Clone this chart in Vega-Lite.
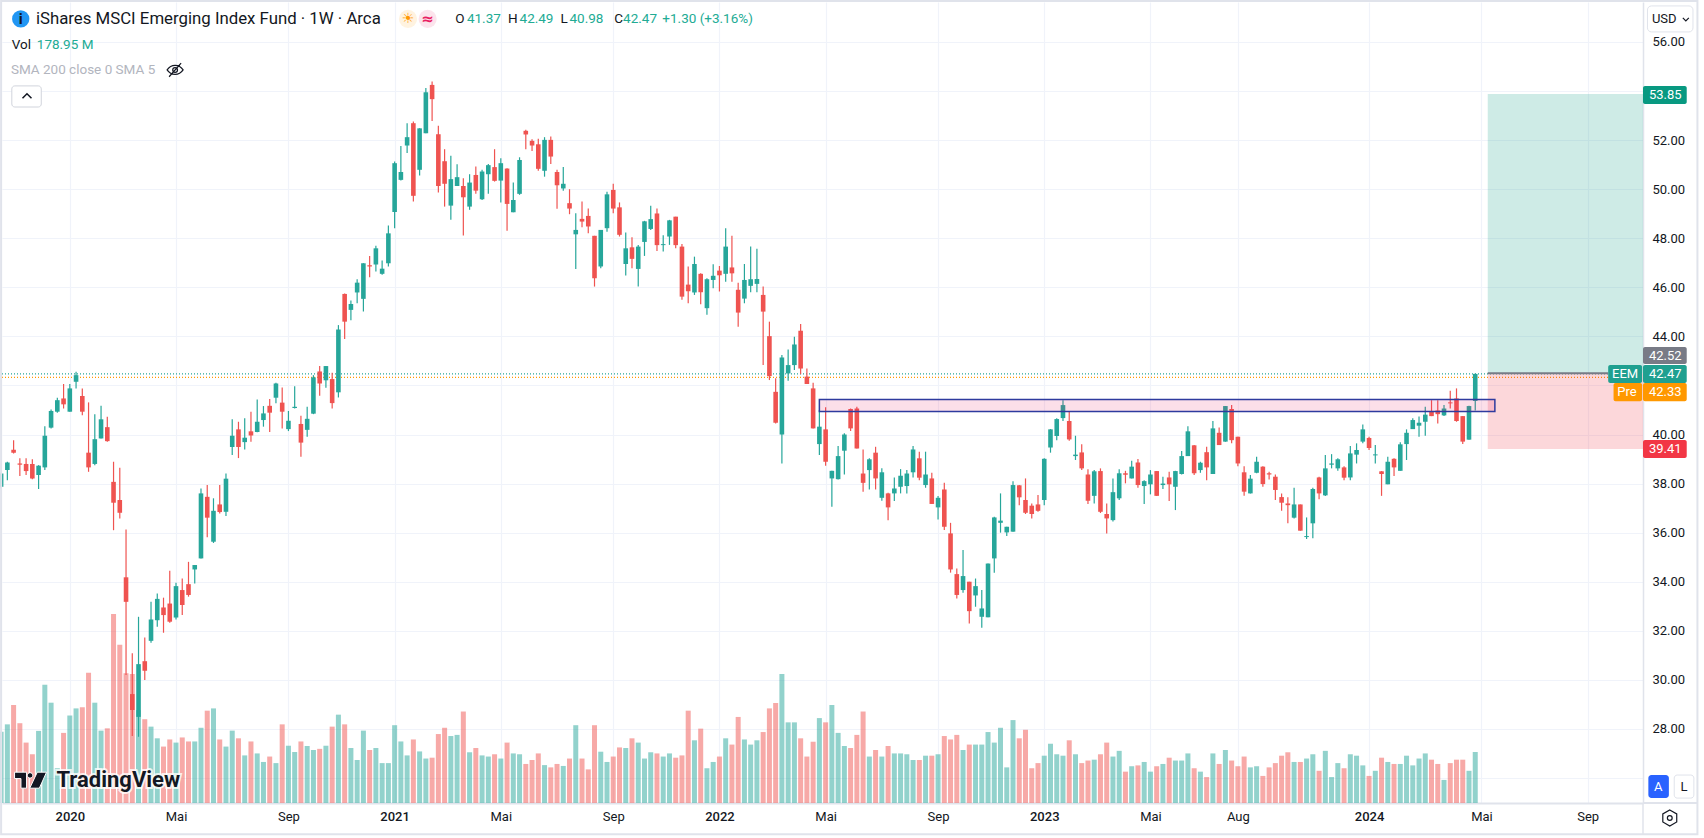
{
"$schema":"https://vega.github.io/schema/vega-lite/v6.json",
"autosize":{"type":"none"},
"width":1641,"height":801,
"padding":{"left":2,"top":2,"right":61,"bottom":35},
"background":"#ffffff",
"config":{"font":"Roboto","view":{"stroke":null}},
"datasets":{"bars":[
{"date":"2019-10-21","dir":"up","open":37.87,"high":38.45,"low":37.8,"close":38.41,"volume":250},
{"date":"2019-10-28","dir":"up","open":38.55,"high":38.89,"low":38.14,"close":38.86,"volume":276},
{"date":"2019-11-04","dir":"down","open":39.38,"high":39.77,"low":39.23,"close":39.26,"volume":344},
{"date":"2019-11-11","dir":"down","open":38.82,"high":39.03,"low":38.31,"close":38.77,"volume":280},
{"date":"2019-11-18","dir":"down","open":38.8,"high":39.03,"low":38.35,"close":38.51,"volume":212},
{"date":"2019-11-25","dir":"down","open":38.8,"high":38.99,"low":38.18,"close":38.21,"volume":171},
{"date":"2019-12-02","dir":"up","open":38.35,"high":38.75,"low":37.78,"close":38.73,"volume":253},
{"date":"2019-12-09","dir":"up","open":38.66,"high":40.34,"low":38.55,"close":39.95,"volume":415},
{"date":"2019-12-16","dir":"up","open":40.28,"high":41.02,"low":40.25,"close":40.96,"volume":352},
{"date":"2019-12-23","dir":"up","open":40.93,"high":41.5,"low":40.89,"close":41.4,"volume":122},
{"date":"2019-12-30","dir":"down","open":41.47,"high":42.06,"low":41.06,"close":41.23,"volume":246},
{"date":"2020-01-06","dir":"up","open":40.93,"high":42.06,"low":40.93,"close":41.88,"volume":307},
{"date":"2020-01-13","dir":"up","open":42.15,"high":42.56,"low":41.88,"close":42.42,"volume":332},
{"date":"2020-01-20","dir":"down","open":41.57,"high":41.88,"low":40.79,"close":40.93,"volume":336},
{"date":"2020-01-27","dir":"down","open":39.26,"high":41.31,"low":38.48,"close":38.66,"volume":457},
{"date":"2020-02-03","dir":"up","open":38.8,"high":40.83,"low":38.75,"close":39.81,"volume":352},
{"date":"2020-02-10","dir":"up","open":39.84,"high":41.17,"low":39.84,"close":40.62,"volume":254},
{"date":"2020-02-17","dir":"down","open":40.3,"high":40.72,"low":39.71,"close":39.73,"volume":262},
{"date":"2020-02-24","dir":"down","open":38.07,"high":38.89,"low":36.1,"close":37.22,"volume":663},
{"date":"2020-03-02","dir":"down","open":37.33,"high":38.65,"low":36.58,"close":36.81,"volume":555},
{"date":"2020-03-09","dir":"down","open":34.18,"high":36.13,"low":30.2,"close":33.18,"volume":455},
{"date":"2020-03-16","dir":"down","open":29.42,"high":31.08,"low":27.71,"close":28.77,"volume":453},
{"date":"2020-03-23","dir":"up","open":28.49,"high":32.57,"low":27.68,"close":30.64,"volume":326},
{"date":"2020-03-30","dir":"down","open":30.76,"high":31.73,"low":29.99,"close":30.37,"volume":294},
{"date":"2020-04-06","dir":"up","open":31.59,"high":33.18,"low":31.51,"close":32.46,"volume":268},
{"date":"2020-04-13","dir":"up","open":32.43,"high":33.52,"low":32.16,"close":33.3,"volume":227},
{"date":"2020-04-20","dir":"down","open":32.95,"high":33.35,"low":31.92,"close":32.64,"volume":198},
{"date":"2020-04-27","dir":"down","open":33.11,"high":34.45,"low":32.33,"close":32.37,"volume":223},
{"date":"2020-05-04","dir":"up","open":32.54,"high":33.96,"low":32.46,"close":33.82,"volume":212},
{"date":"2020-05-11","dir":"down","open":33.66,"high":34.13,"low":32.64,"close":33.05,"volume":230},
{"date":"2020-05-18","dir":"down","open":33.9,"high":34.81,"low":33.39,"close":33.46,"volume":216},
{"date":"2020-05-25","dir":"up","open":34.5,"high":34.68,"low":33.93,"close":34.68,"volume":216},
{"date":"2020-06-01","dir":"up","open":34.95,"high":37.8,"low":34.95,"close":37.6,"volume":264},
{"date":"2020-06-08","dir":"down","open":37.46,"high":37.94,"low":35.81,"close":36.61,"volume":324},
{"date":"2020-06-15","dir":"up","open":35.63,"high":37.4,"low":35.58,"close":36.89,"volume":332},
{"date":"2020-06-22","dir":"down","open":37.15,"high":37.94,"low":36.78,"close":36.84,"volume":223},
{"date":"2020-06-29","dir":"up","open":36.85,"high":38.41,"low":36.68,"close":38.2,"volume":198},
{"date":"2020-07-06","dir":"up","open":39.49,"high":40.62,"low":39.16,"close":39.95,"volume":254},
{"date":"2020-07-13","dir":"down","open":40.21,"high":40.52,"low":39.04,"close":39.49,"volume":227},
{"date":"2020-07-20","dir":"up","open":39.69,"high":40.66,"low":39.39,"close":39.87,"volume":167},
{"date":"2020-07-27","dir":"down","open":40.13,"high":40.93,"low":39.71,"close":39.96,"volume":216},
{"date":"2020-08-03","dir":"up","open":40.1,"high":41.43,"low":40.09,"close":40.52,"volume":174},
{"date":"2020-08-10","dir":"up","open":40.59,"high":41.16,"low":40.32,"close":40.86,"volume":144},
{"date":"2020-08-17","dir":"down","open":41.17,"high":41.45,"low":40.1,"close":40.89,"volume":163},
{"date":"2020-08-24","dir":"up","open":41.5,"high":42.11,"low":41.27,"close":42.08,"volume":140},
{"date":"2020-08-31","dir":"down","open":41.3,"high":41.92,"low":40.25,"close":40.93,"volume":276},
{"date":"2020-09-07","dir":"up","open":40.22,"high":40.96,"low":40.14,"close":40.56,"volume":201},
{"date":"2020-09-14","dir":"up","open":41.08,"high":41.97,"low":41.06,"close":41.13,"volume":179},
{"date":"2020-09-21","dir":"down","open":40.43,"high":40.77,"low":39.09,"close":39.67,"volume":216},
{"date":"2020-09-28","dir":"up","open":40.19,"high":41.13,"low":39.91,"close":40.64,"volume":200},
{"date":"2020-10-05","dir":"up","open":40.85,"high":42.42,"low":40.83,"close":42.33,"volume":186},
{"date":"2020-10-12","dir":"down","open":42.57,"high":42.79,"low":41.58,"close":42.08,"volume":190},
{"date":"2020-10-19","dir":"up","open":42.21,"high":42.79,"low":41.91,"close":42.79,"volume":201},
{"date":"2020-10-26","dir":"down","open":42.26,"high":42.52,"low":41.06,"close":41.28,"volume":268},
{"date":"2020-11-02","dir":"up","open":41.72,"high":44.46,"low":41.51,"close":44.28,"volume":310},
{"date":"2020-11-09","dir":"down","open":45.73,"high":45.75,"low":43.89,"close":44.6,"volume":276},
{"date":"2020-11-16","dir":"up","open":45.08,"high":45.46,"low":44.66,"close":45.32,"volume":193},
{"date":"2020-11-23","dir":"up","open":45.79,"high":46.33,"low":45.35,"close":46.19,"volume":151},
{"date":"2020-11-30","dir":"up","open":45.53,"high":46.98,"low":45.01,"close":46.98,"volume":254},
{"date":"2020-12-07","dir":"down","open":46.9,"high":47.28,"low":46.41,"close":46.85,"volume":186},
{"date":"2020-12-14","dir":"up","open":46.93,"high":47.69,"low":46.64,"close":47.59,"volume":193},
{"date":"2020-12-21","dir":"up","open":46.55,"high":47.09,"low":46.51,"close":46.76,"volume":140},
{"date":"2020-12-28","dir":"up","open":46.98,"high":48.52,"low":46.85,"close":48.2,"volume":140},
{"date":"2021-01-04","dir":"up","open":49.07,"high":51.13,"low":48.41,"close":51.06,"volume":273},
{"date":"2021-01-11","dir":"up","open":50.38,"high":51.76,"low":50.35,"close":50.7,"volume":216},
{"date":"2021-01-18","dir":"up","open":51.78,"high":52.69,"low":51.47,"close":52.12,"volume":167},
{"date":"2021-01-25","dir":"down","open":52.69,"high":52.76,"low":49.5,"close":49.73,"volume":223},
{"date":"2021-02-01","dir":"up","open":50.79,"high":52.48,"low":50.56,"close":52.48,"volume":181},
{"date":"2021-02-08","dir":"up","open":52.28,"high":54.12,"low":52.28,"close":53.95,"volume":156},
{"date":"2021-02-15","dir":"down","open":54.25,"high":54.39,"low":52.78,"close":53.67,"volume":159},
{"date":"2021-02-22","dir":"down","open":52.24,"high":52.59,"low":49.86,"close":50.13,"volume":242},
{"date":"2021-03-01","dir":"down","open":51.14,"high":51.63,"low":49.29,"close":50.22,"volume":264},
{"date":"2021-03-08","dir":"up","open":49.33,"high":51.36,"low":48.75,"close":50.41,"volume":235},
{"date":"2021-03-15","dir":"up","open":50.13,"high":51.02,"low":50.13,"close":50.49,"volume":239},
{"date":"2021-03-22","dir":"down","open":50.13,"high":50.45,"low":48.11,"close":49.67,"volume":321},
{"date":"2021-03-29","dir":"up","open":49.29,"high":50.61,"low":49.16,"close":50.27,"volume":178},
{"date":"2021-04-05","dir":"down","open":50.58,"high":50.92,"low":49.81,"close":49.94,"volume":193},
{"date":"2021-04-12","dir":"up","open":49.59,"high":50.79,"low":49.56,"close":50.72,"volume":167},
{"date":"2021-04-19","dir":"up","open":50.61,"high":51.03,"low":49.81,"close":50.98,"volume":163},
{"date":"2021-04-26","dir":"down","open":50.9,"high":51.63,"low":50.31,"close":50.34,"volume":171},
{"date":"2021-05-03","dir":"up","open":50.35,"high":51.26,"low":49.46,"close":51.06,"volume":156},
{"date":"2021-05-10","dir":"down","open":50.84,"high":50.85,"low":48.31,"close":49.4,"volume":212},
{"date":"2021-05-17","dir":"up","open":49.06,"high":50.27,"low":49.06,"close":49.56,"volume":174},
{"date":"2021-05-24","dir":"up","open":49.81,"high":51.3,"low":49.77,"close":51.19,"volume":171},
{"date":"2021-05-31","dir":"down","open":52.38,"high":52.42,"low":51.63,"close":52.23,"volume":137},
{"date":"2021-06-07","dir":"down","open":51.97,"high":52.04,"low":51.56,"close":51.78,"volume":151},
{"date":"2021-06-14","dir":"down","open":51.83,"high":52.06,"low":50.75,"close":50.83,"volume":174},
{"date":"2021-06-21","dir":"up","open":50.75,"high":52.12,"low":50.51,"close":52.01,"volume":133},
{"date":"2021-06-28","dir":"down","open":52.01,"high":52.15,"low":51.03,"close":51.33,"volume":125},
{"date":"2021-07-05","dir":"down","open":50.7,"high":50.79,"low":49.2,"close":50.16,"volume":137},
{"date":"2021-07-12","dir":"up","open":50.03,"high":50.9,"low":49.94,"close":50.22,"volume":130},
{"date":"2021-07-19","dir":"down","open":49.43,"high":50,"low":48.98,"close":49.21,"volume":156},
{"date":"2021-07-26","dir":"up","open":48.16,"high":49.02,"low":46.75,"close":48.34,"volume":273},
{"date":"2021-08-02","dir":"down","open":48.79,"high":49.5,"low":48.45,"close":48.68,"volume":156},
{"date":"2021-08-09","dir":"down","open":48.91,"high":49.21,"low":48.2,"close":48.48,"volume":118},
{"date":"2021-08-16","dir":"down","open":48.1,"high":48.1,"low":46.03,"close":46.37,"volume":273},
{"date":"2021-08-23","dir":"up","open":46.85,"high":48.34,"low":46.78,"close":48.34,"volume":180},
{"date":"2021-08-30","dir":"up","open":48.41,"high":49.9,"low":48.27,"close":49.79,"volume":144},
{"date":"2021-09-06","dir":"down","open":49.97,"high":50.22,"low":49.02,"close":49.21,"volume":163},
{"date":"2021-09-13","dir":"down","open":49.26,"high":49.46,"low":48.07,"close":48.14,"volume":195},
{"date":"2021-09-20","dir":"up","open":46.95,"high":48.23,"low":46.48,"close":47.59,"volume":193},
{"date":"2021-09-27","dir":"down","open":47.63,"high":48.04,"low":46.78,"close":47.16,"volume":227},
{"date":"2021-10-04","dir":"up","open":46.75,"high":47.73,"low":46.03,"close":47.66,"volume":212},
{"date":"2021-10-11","dir":"up","open":47.85,"high":48.71,"low":47.28,"close":48.69,"volume":156},
{"date":"2021-10-18","dir":"up","open":48.38,"high":49.32,"low":48.34,"close":48.78,"volume":178},
{"date":"2021-10-25","dir":"down","open":49.01,"high":49.21,"low":47.48,"close":47.72,"volume":174},
{"date":"2021-11-01","dir":"up","open":47.72,"high":48.12,"low":47.46,"close":47.76,"volume":163},
{"date":"2021-11-08","dir":"up","open":48.07,"high":48.75,"low":47.73,"close":48.73,"volume":174},
{"date":"2021-11-15","dir":"down","open":48.88,"high":48.88,"low":47.59,"close":47.72,"volume":159},
{"date":"2021-11-22","dir":"down","open":47.66,"high":47.77,"low":45.49,"close":45.62,"volume":167},
{"date":"2021-11-29","dir":"down","open":46.11,"high":46.85,"low":45.35,"close":45.84,"volume":324},
{"date":"2021-12-06","dir":"up","open":45.79,"high":47.25,"low":45.69,"close":46.95,"volume":220},
{"date":"2021-12-13","dir":"down","open":46.55,"high":46.57,"low":45.31,"close":45.8,"volume":261},
{"date":"2021-12-20","dir":"up","open":45.15,"high":46.37,"low":44.88,"close":46.33,"volume":122},
{"date":"2021-12-27","dir":"up","open":46.3,"high":46.94,"low":45.96,"close":46.47,"volume":144},
{"date":"2022-01-03","dir":"down","open":46.68,"high":46.87,"low":45.83,"close":46.49,"volume":163},
{"date":"2022-01-10","dir":"up","open":46.55,"high":48.41,"low":46.23,"close":47.66,"volume":227},
{"date":"2022-01-17","dir":"down","open":46.81,"high":48.1,"low":46.23,"close":46.57,"volume":205},
{"date":"2022-01-24","dir":"down","open":45.9,"high":46.19,"low":44.39,"close":44.97,"volume":302},
{"date":"2022-01-31","dir":"up","open":45.54,"high":46.95,"low":45.35,"close":46.3,"volume":223},
{"date":"2022-02-07","dir":"up","open":46.06,"high":47.66,"low":45.8,"close":46.33,"volume":205},
{"date":"2022-02-14","dir":"up","open":46.14,"high":47.57,"low":45.8,"close":46.34,"volume":220},
{"date":"2022-02-21","dir":"down","open":45.69,"high":46.03,"low":42.83,"close":45.01,"volume":249},
{"date":"2022-02-28","dir":"down","open":44.01,"high":44.6,"low":42.22,"close":42.38,"volume":332},
{"date":"2022-03-07","dir":"down","open":41.74,"high":42.29,"low":40.45,"close":40.48,"volume":351},
{"date":"2022-03-14","dir":"up","open":40,"high":43.24,"low":38.82,"close":43.14,"volume":453},
{"date":"2022-03-21","dir":"up","open":42.49,"high":43.47,"low":42.19,"close":42.83,"volume":283},
{"date":"2022-03-28","dir":"up","open":42.83,"high":43.99,"low":42.63,"close":43.67,"volume":283},
{"date":"2022-04-04","dir":"down","open":44.23,"high":44.5,"low":42.46,"close":42.69,"volume":227},
{"date":"2022-04-11","dir":"down","open":42.36,"high":42.69,"low":42.06,"close":42.06,"volume":163},
{"date":"2022-04-18","dir":"down","open":41.88,"high":42.11,"low":40.25,"close":40.25,"volume":215},
{"date":"2022-04-25","dir":"up","open":39.61,"high":41,"low":39.16,"close":40.32,"volume":298},
{"date":"2022-05-02","dir":"down","open":40.21,"high":41.11,"low":38.73,"close":38.89,"volume":283},
{"date":"2022-05-09","dir":"up","open":38.21,"high":38.52,"low":37.06,"close":38.52,"volume":344},
{"date":"2022-05-16","dir":"up","open":38.18,"high":39.53,"low":38.17,"close":39.12,"volume":246},
{"date":"2022-05-23","dir":"up","open":39.34,"high":40.05,"low":38.37,"close":40,"volume":200},
{"date":"2022-05-30","dir":"down","open":41.04,"high":41.06,"low":40.14,"close":40.25,"volume":193},
{"date":"2022-06-06","dir":"down","open":41.06,"high":41.13,"low":39.43,"close":39.43,"volume":239},
{"date":"2022-06-13","dir":"down","open":38.41,"high":39.39,"low":37.67,"close":38.03,"volume":321},
{"date":"2022-06-20","dir":"up","open":38.55,"high":39.03,"low":37.76,"close":38.99,"volume":163},
{"date":"2022-06-27","dir":"down","open":39.26,"high":39.5,"low":37.76,"close":38.21,"volume":186},
{"date":"2022-07-04","dir":"up","open":37.42,"high":38.62,"low":37.3,"close":38.46,"volume":163},
{"date":"2022-07-11","dir":"down","open":37.6,"high":37.63,"low":36.51,"close":37.03,"volume":200},
{"date":"2022-07-18","dir":"up","open":37.6,"high":38.25,"low":37.29,"close":37.8,"volume":174},
{"date":"2022-07-25","dir":"up","open":37.87,"high":38.59,"low":37.6,"close":38.32,"volume":174},
{"date":"2022-08-01","dir":"up","open":37.9,"high":38.55,"low":37.6,"close":38.41,"volume":171},
{"date":"2022-08-08","dir":"up","open":38.46,"high":39.53,"low":38.25,"close":39.39,"volume":151},
{"date":"2022-08-15","dir":"down","open":39.03,"high":39.3,"low":38.14,"close":38.24,"volume":151},
{"date":"2022-08-22","dir":"up","open":37.94,"high":39.3,"low":37.83,"close":38.37,"volume":166},
{"date":"2022-08-29","dir":"down","open":38.21,"high":38.44,"low":37.17,"close":37.17,"volume":166},
{"date":"2022-09-05","dir":"up","open":37.03,"high":37.49,"low":36.54,"close":37.42,"volume":171},
{"date":"2022-09-12","dir":"down","open":37.76,"high":38.03,"low":36.11,"close":36.24,"volume":235},
{"date":"2022-09-19","dir":"down","open":35.97,"high":36.4,"low":34.37,"close":34.5,"volume":223},
{"date":"2022-09-26","dir":"down","open":34.31,"high":34.54,"low":33.32,"close":33.46,"volume":239},
{"date":"2022-10-03","dir":"up","open":33.66,"high":35.29,"low":33.55,"close":34.23,"volume":186},
{"date":"2022-10-10","dir":"down","open":34,"high":34,"low":32.3,"close":32.8,"volume":205},
{"date":"2022-10-17","dir":"up","open":33.44,"high":34.13,"low":32.98,"close":33.82,"volume":205},
{"date":"2022-10-24","dir":"up","open":32.57,"high":33.66,"low":32.12,"close":32.91,"volume":205},
{"date":"2022-10-31","dir":"up","open":32.55,"high":34.74,"low":32.55,"close":34.74,"volume":249},
{"date":"2022-11-07","dir":"up","open":34.95,"high":36.65,"low":34.37,"close":36.62,"volume":212},
{"date":"2022-11-14","dir":"up","open":36.4,"high":37.6,"low":36,"close":36.49,"volume":264},
{"date":"2022-11-21","dir":"up","open":36.01,"high":36.24,"low":35.86,"close":36.24,"volume":125},
{"date":"2022-11-28","dir":"up","open":36.04,"high":38.1,"low":36.04,"close":37.94,"volume":291},
{"date":"2022-12-05","dir":"down","open":37.93,"high":37.94,"low":37.12,"close":37.44,"volume":227},
{"date":"2022-12-12","dir":"down","open":37.33,"high":38.21,"low":36.76,"close":36.81,"volume":257},
{"date":"2022-12-19","dir":"down","open":37.1,"high":37.19,"low":36.58,"close":36.76,"volume":122},
{"date":"2022-12-26","dir":"down","open":37.15,"high":37.53,"low":36.85,"close":36.89,"volume":140},
{"date":"2023-01-02","dir":"up","open":37.33,"high":39.03,"low":37.12,"close":39.01,"volume":166},
{"date":"2023-01-09","dir":"up","open":39.47,"high":40.22,"low":39.26,"close":40.21,"volume":208},
{"date":"2023-01-16","dir":"up","open":39.94,"high":40.66,"low":39.77,"close":40.63,"volume":171},
{"date":"2023-01-23","dir":"up","open":40.67,"high":41.4,"low":40.55,"close":41.2,"volume":166},
{"date":"2023-01-30","dir":"down","open":40.55,"high":40.93,"low":39.75,"close":39.8,"volume":220},
{"date":"2023-02-06","dir":"up","open":39.12,"high":39.95,"low":38.96,"close":39.18,"volume":171},
{"date":"2023-02-13","dir":"down","open":39.27,"high":39.6,"low":38.55,"close":38.62,"volume":140},
{"date":"2023-02-20","dir":"down","open":38.37,"high":38.58,"low":37.17,"close":37.3,"volume":149},
{"date":"2023-02-27","dir":"up","open":37.5,"high":38.55,"low":37.19,"close":38.5,"volume":152},
{"date":"2023-03-06","dir":"down","open":38.51,"high":38.62,"low":36.8,"close":36.85,"volume":171},
{"date":"2023-03-13","dir":"down","open":36.76,"high":37.19,"low":35.97,"close":36.58,"volume":212},
{"date":"2023-03-20","dir":"up","open":36.51,"high":38.21,"low":36.45,"close":37.65,"volume":163},
{"date":"2023-03-27","dir":"up","open":37.4,"high":38.58,"low":37.33,"close":38.42,"volume":183},
{"date":"2023-04-03","dir":"down","open":38.42,"high":38.52,"low":38.01,"close":38.36,"volume":110},
{"date":"2023-04-10","dir":"up","open":38.21,"high":38.93,"low":38.21,"close":38.69,"volume":129},
{"date":"2023-04-17","dir":"down","open":38.86,"high":39,"low":37.83,"close":37.94,"volume":132},
{"date":"2023-04-24","dir":"up","open":37.9,"high":38.14,"low":37.17,"close":38.1,"volume":144},
{"date":"2023-05-01","dir":"up","open":37.97,"high":38.55,"low":37.56,"close":38.37,"volume":110},
{"date":"2023-05-08","dir":"down","open":38.51,"high":38.51,"low":37.49,"close":37.5,"volume":129},
{"date":"2023-05-15","dir":"up","open":37.94,"high":38.28,"low":37.78,"close":38,"volume":137},
{"date":"2023-05-22","dir":"down","open":38.25,"high":38.48,"low":37.29,"close":37.97,"volume":159},
{"date":"2023-05-29","dir":"up","open":37.87,"high":38.52,"low":36.92,"close":38.51,"volume":149},
{"date":"2023-06-05","dir":"up","open":38.39,"high":39.33,"low":38.37,"close":39.12,"volume":149},
{"date":"2023-06-12","dir":"up","open":39.12,"high":40.34,"low":39.12,"close":40.13,"volume":174},
{"date":"2023-06-19","dir":"down","open":39.56,"high":39.57,"low":38.35,"close":38.42,"volume":122},
{"date":"2023-06-26","dir":"up","open":38.55,"high":38.89,"low":38.44,"close":38.85,"volume":110},
{"date":"2023-07-03","dir":"down","open":39.28,"high":39.5,"low":38.14,"close":38.66,"volume":91},
{"date":"2023-07-10","dir":"up","open":38.39,"high":40.55,"low":38.39,"close":40.25,"volume":174},
{"date":"2023-07-17","dir":"down","open":40.07,"high":40.29,"low":39.57,"close":39.57,"volume":137},
{"date":"2023-07-24","dir":"up","open":39.71,"high":41.16,"low":39.71,"close":41.16,"volume":186},
{"date":"2023-07-31","dir":"down","open":41.04,"high":41.2,"low":39.64,"close":39.77,"volume":149},
{"date":"2023-08-07","dir":"down","open":39.91,"high":39.91,"low":38.71,"close":38.82,"volume":129},
{"date":"2023-08-14","dir":"down","open":38.46,"high":38.71,"low":37.5,"close":37.67,"volume":163},
{"date":"2023-08-21","dir":"up","open":37.6,"high":38.35,"low":37.6,"close":38.2,"volume":125},
{"date":"2023-08-28","dir":"up","open":38.44,"high":39.09,"low":38.42,"close":38.89,"volume":129},
{"date":"2023-09-04","dir":"down","open":38.69,"high":38.71,"low":37.87,"close":37.98,"volume":95},
{"date":"2023-09-11","dir":"down","open":38.42,"high":38.48,"low":38.17,"close":38.37,"volume":125},
{"date":"2023-09-18","dir":"down","open":38.28,"high":38.37,"low":37.33,"close":37.74,"volume":140},
{"date":"2023-09-25","dir":"down","open":37.45,"high":37.6,"low":36.89,"close":37.22,"volume":166},
{"date":"2023-10-02","dir":"down","open":37.19,"high":37.44,"low":36.38,"close":37.12,"volume":178},
{"date":"2023-10-09","dir":"up","open":36.61,"high":37.83,"low":36.58,"close":37.15,"volume":144},
{"date":"2023-10-16","dir":"down","open":37.15,"high":37.15,"low":36.08,"close":36.08,"volume":144},
{"date":"2023-10-23","dir":"up","open":35.82,"high":36.62,"low":35.74,"close":35.86,"volume":156},
{"date":"2023-10-30","dir":"up","open":36.38,"high":37.83,"low":35.77,"close":37.78,"volume":171},
{"date":"2023-11-06","dir":"down","open":38.25,"high":38.28,"low":37.36,"close":37.6,"volume":113},
{"date":"2023-11-13","dir":"up","open":37.52,"high":39.16,"low":37.49,"close":38.62,"volume":183},
{"date":"2023-11-20","dir":"up","open":38.77,"high":39.2,"low":38.62,"close":38.82,"volume":91},
{"date":"2023-11-27","dir":"up","open":38.62,"high":39.03,"low":38.52,"close":38.99,"volume":140},
{"date":"2023-12-04","dir":"down","open":38.66,"high":38.71,"low":38.14,"close":38.24,"volume":122},
{"date":"2023-12-11","dir":"up","open":38.25,"high":39.53,"low":38.14,"close":39.23,"volume":171},
{"date":"2023-12-18","dir":"up","open":39.18,"high":39.64,"low":38.82,"close":39.37,"volume":166},
{"date":"2023-12-25","dir":"up","open":39.71,"high":40.41,"low":39.64,"close":40.21,"volume":132},
{"date":"2024-01-01","dir":"down","open":39.86,"high":39.91,"low":39.37,"close":39.45,"volume":95},
{"date":"2024-01-08","dir":"up","open":39.15,"high":39.57,"low":38.82,"close":39.19,"volume":113},
{"date":"2024-01-15","dir":"down","open":38.5,"high":38.51,"low":37.5,"close":38.39,"volume":159},
{"date":"2024-01-22","dir":"up","open":37.97,"high":39.09,"low":37.97,"close":38.89,"volume":144},
{"date":"2024-01-29","dir":"down","open":39.01,"high":39.03,"low":38.31,"close":38.66,"volume":137},
{"date":"2024-02-05","dir":"up","open":38.52,"high":39.68,"low":38.52,"close":39.6,"volume":137},
{"date":"2024-02-12","dir":"up","open":39.61,"high":40.21,"low":38.96,"close":40.07,"volume":166},
{"date":"2024-02-19","dir":"up","open":40.22,"high":40.66,"low":40.22,"close":40.59,"volume":132},
{"date":"2024-02-26","dir":"up","open":40.36,"high":40.73,"low":39.91,"close":40.48,"volume":156},
{"date":"2024-03-04","dir":"up","open":40.52,"high":41.13,"low":39.95,"close":40.81,"volume":174},
{"date":"2024-03-11","dir":"down","open":40.92,"high":41.4,"low":40.75,"close":40.75,"volume":152},
{"date":"2024-03-18","dir":"down","open":40.98,"high":41.4,"low":40.45,"close":40.83,"volume":137},
{"date":"2024-03-25","dir":"up","open":40.78,"high":41.2,"low":40.75,"close":41.06,"volume":81},
{"date":"2024-04-01","dir":"down","open":41.31,"high":41.78,"low":41.06,"close":41.27,"volume":140},
{"date":"2024-04-08","dir":"down","open":41.47,"high":41.88,"low":40.52,"close":40.55,"volume":152},
{"date":"2024-04-15","dir":"down","open":40.75,"high":40.75,"low":39.61,"close":39.71,"volume":152},
{"date":"2024-04-22","dir":"up","open":39.79,"high":41.17,"low":39.79,"close":41.16,"volume":113},
{"date":"2024-04-29","dir":"up","open":41.37,"high":42.49,"low":40.98,"close":42.47,"volume":178.95}
],
"tags":[
{"tag":"target","date":"2024-11-03","date2":"2024-12-22","mid":"2024-11-28","low":53.47,"high":54.21,"price":53.84,"label":"53.85"},
{"tag":"last","date":"2024-11-03","date2":"2024-12-22","mid":"2024-11-28","low":42.87,"high":43.57,"price":43.22,"label":"42.52"},
{"tag":"close","date":"2024-11-03","date2":"2024-12-22","mid":"2024-11-28","low":42.1,"high":42.83,"price":42.47,"label":"42.47"},
{"tag":"pre","date":"2024-11-03","date2":"2024-12-22","mid":"2024-11-28","low":41.36,"high":42.1,"price":41.73,"label":"42.33"},
{"tag":"stop","date":"2024-11-03","date2":"2024-12-22","mid":"2024-11-28","low":39.04,"high":39.78,"price":39.41,"label":"39.41"},
{"tag":"close","date":"2024-09-25","date2":"2024-11-02","mid":"2024-10-14","low":42.1,"high":42.83,"price":42.47,"label":"EEM"},
{"tag":"pre","date":"2024-10-01","date2":"2024-11-02","mid":"2024-10-16","low":41.36,"high":42.1,"price":41.73,"label":"Pre"}
]},
"encoding":{"x":{"field":"date","type":"temporal","title":null,
  "scale":{"type":"utc","domain":["2019-10-22","2024-11-03"],"nice":false,"padding":0},
  "axis":{"orient":"bottom",
    "values":["2020-01-06","2020-05-04","2020-09-07","2021-01-04","2021-05-03","2021-09-06","2022-01-03","2022-05-02","2022-09-05","2023-01-02","2023-05-01","2023-08-07","2024-01-01","2024-05-06","2024-09-02"],
    "labelExpr":"utcmonth(datum.value)==0?''+utcyear(datum.value):utcmonth(datum.value)==4?'Mai':utcmonth(datum.value)==7?'Aug':'Sep'",
    "labelFontWeight":{"expr":"utcmonth(datum.value)==0?500:'normal'"},
    "labelFontSize":13,"labelColor":"#131722","labelPadding":7,"labelFlush":false,"labelOverlap":false,"labelBound":false,
    "ticks":false,"grid":true,"gridColor":"#f0f3fa","gridWidth":1.2,"domainColor":"#e0e3eb","domainWidth":2}}},
"layer":[
{"data":{"name":"bars"},
 "mark":{"type":"bar","size":5,"opacity":0.5},
 "encoding":{
  "y":{"field":"volume","type":"quantitative","stack":null,"axis":null,"scale":{"domain":[0,2811],"nice":false}},
  "color":{"field":"dir","type":"nominal","legend":null,"scale":{"domain":["up","down"],"range":["#26a69a","#ef5350"]}}}},
{"encoding":{"y":{"field":"price","type":"quantitative"}},
 "layer":[
 {"data":{"values":[{"date":"2019-10-22","date2":"2024-11-03","price":42.47}]},
  "mark":{"type":"rule","color":"#26a69a","strokeWidth":1.3,"strokeDash":[1,2]},
  "encoding":{"x2":{"field":"date2"},
   "y":{"field":"price","type":"quantitative","title":null,
    "scale":{"domain":[24.98,57.63],"nice":false,"zero":false},
    "axis":{"orient":"right","title":null,"values":[26,28,30,32,34,36,38,40,42,44,46,48,50,52,54,56],
     "labelExpr":"datum.value==26||datum.value==42||datum.value==54?'':format(datum.value,'.2f')",
     "labelFontSize":13,"labelColor":"#131722","labelPadding":9,"labelFlush":false,"labelOverlap":false,"labelBound":false,
     "ticks":false,"grid":true,"gridColor":"#f0f3fa","gridWidth":1.2,"domainColor":"#e0e3eb","domainWidth":1.5}}}},
 {"data":{"values":[{"date":"2019-10-22","date2":"2024-11-03","price":42.33}]},
  "mark":{"type":"rule","color":"#ff9800","strokeWidth":1.3,"strokeDash":[1,2]},
  "encoding":{"x2":{"field":"date2"}}},
 {"data":{"name":"bars"},
  "mark":{"type":"rule","strokeWidth":1.2},
  "encoding":{"y":{"field":"low","type":"quantitative"},"y2":{"field":"high"},
   "color":{"field":"dir","type":"nominal","legend":null}}},
 {"data":{"name":"bars"},
  "mark":{"type":"bar","size":4.6},
  "encoding":{"y":{"field":"open","type":"quantitative"},"y2":{"field":"close"},
   "color":{"field":"dir","type":"nominal","legend":null}}},
 {"data":{"values":[{"date":"2024-05-13","date2":"2024-11-03","low":42.5,"high":53.88}]},
  "mark":{"type":"rect","color":"#089981","opacity":0.2},
  "encoding":{"x2":{"field":"date2"},"y":{"field":"low","type":"quantitative"},"y2":{"field":"high"}}},
 {"data":{"values":[{"date":"2024-05-13","date2":"2024-11-03","low":39.41,"high":42.5}]},
  "mark":{"type":"rect","color":"#f23645","opacity":0.2},
  "encoding":{"x2":{"field":"date2"},"y":{"field":"low","type":"quantitative"},"y2":{"field":"high"}}},
 {"data":{"values":[{"date":"2024-05-13","date2":"2024-09-25","price":42.5}]},
  "mark":{"type":"rule","color":"#787b86","strokeWidth":2},
  "encoding":{"x2":{"field":"date2"}}},
 {"data":{"values":[{"date":"2022-04-25","date2":"2024-05-21","low":40.94,"high":41.43}]},
  "mark":{"type":"rect","fill":"#e91e63","fillOpacity":0.14,"stroke":"#2e3b9e","strokeWidth":1.5},
  "encoding":{"x2":{"field":"date2"},"y":{"field":"low","type":"quantitative"},"y2":{"field":"high"}}},
 {"data":{"values":[{"date":"2019-10-21","date2":"2025-01-03","low":23.71,"high":57.67}]},
  "mark":{"type":"rect","fillOpacity":0,"fill":"#ffffff","stroke":"#e0e3eb","strokeWidth":2,"clip":false},
  "encoding":{"x2":{"field":"date2"},"y":{"field":"low","type":"quantitative"},"y2":{"field":"high"}}},
 {"data":{"values":[{"date":"2024-11-03","date2":"2025-01-03","price":24.98}]},
  "mark":{"type":"rule","color":"#e0e3eb","strokeWidth":2},
  "encoding":{"x2":{"field":"date2"}}},
 {"data":{"values":[{"date":"2024-11-03","low":23.71,"high":24.98}]},
  "mark":{"type":"rule","color":"#e0e3eb","strokeWidth":1.5},
  "encoding":{"y":{"field":"low","type":"quantitative"},"y2":{"field":"high"}}},
 {"data":{"name":"tags"},
  "mark":{"type":"rect","cornerRadius":2},
  "encoding":{"x2":{"field":"date2"},"y":{"field":"low","type":"quantitative"},"y2":{"field":"high"},
   "fill":{"field":"tag","type":"nominal","legend":null,"scale":{"domain":["target","last","close","pre","stop"],"range":["#089981","#787b86","#1fa090","#ff9800","#f23645"]}}}},
 {"data":{"name":"tags"},
  "mark":{"type":"text","color":"#ffffff","fontSize":13,"align":"center","baseline":"middle"},
  "encoding":{"x":{"field":"mid","type":"temporal"},"text":{"field":"label"}}},
 {"data":{"values":[{"date":"2019-11-12","price":56.94}]},
  "mark":{"type":"point","filled":true,"shape":"circle","size":300,"color":"#2196f3","opacity":1}},
 {"data":{"values":[{"date":"2019-11-12","price":56.94,"label":"i"}]},
  "mark":{"type":"text","color":"#131722","fontSize":15,"fontWeight":"bold","align":"center","baseline":"middle"},
  "encoding":{"text":{"field":"label"}}},
 {"data":{"values":[{"date":"2019-11-29","price":56.94,"label":"iShares MSCI Emerging Index Fund · 1W · Arca"}]},
  "mark":{"type":"text","color":"#131722","fontSize":16.8,"align":"left","baseline":"middle"},
  "encoding":{"text":{"field":"label"}}},
 {"data":{"values":[{"date":"2021-01-19","price":56.94}]},
  "mark":{"type":"point","filled":true,"shape":"circle","size":330,"color":"#fff3e0","opacity":1}},
 {"data":{"values":[{"date":"2021-02-10","price":56.94}]},
  "mark":{"type":"point","filled":true,"shape":"circle","size":330,"color":"#fce4ec","opacity":1}},
 {"data":{"values":[{"date":"2021-01-19","price":56.94,"label":"☀"}]},
  "mark":{"type":"text","font":"DejaVu Sans","color":"#ff9800","fontSize":14,"align":"center","baseline":"middle"},
  "encoding":{"text":{"field":"label"}}},
 {"data":{"values":[{"date":"2021-02-10","price":56.94,"label":"≈"}]},
  "mark":{"type":"text","font":"DejaVu Sans","color":"#e91e63","fontSize":15,"fontWeight":"bold","align":"center","baseline":"middle"},
  "encoding":{"text":{"field":"label"}}},
 {"data":{"values":[
   {"date":"2021-03-13","price":56.94,"label":"O"},{"date":"2021-05-11","price":56.94,"label":"H"},
   {"date":"2021-07-09","price":56.94,"label":"L"},{"date":"2021-09-07","price":56.94,"label":"C"},
   {"date":"2019-11-02","price":55.88,"label":"Vol"}]},
  "mark":{"type":"text","color":"#131722","fontSize":13.5,"align":"left","baseline":"middle"},
  "encoding":{"text":{"field":"label"}}},
 {"data":{"values":[
   {"date":"2021-03-26","price":56.94,"label":"41.37"},{"date":"2021-05-24","price":56.94,"label":"42.49"},
   {"date":"2021-07-19","price":56.94,"label":"40.98"},{"date":"2021-09-17","price":56.94,"label":"42.47"},
   {"date":"2021-10-31","price":56.94,"label":"+1.30 (+3.16%)"},{"date":"2019-11-30","price":55.88,"label":"178.95 M"}]},
  "mark":{"type":"text","color":"#22ab94","fontSize":13.5,"align":"left","baseline":"middle"},
  "encoding":{"text":{"field":"label"}}},
 {"data":{"values":[{"date":"2019-11-01","price":54.86,"label":"SMA 200 close 0 SMA 5"}]},
  "mark":{"type":"text","color":"#b2b5be","fontSize":13.5,"align":"left","baseline":"middle"},
  "encoding":{"text":{"field":"label"}}},
 {"data":{"values":[{"date":"2020-05-03","price":54.86}]},
  "mark":{"type":"point","shape":"M-1,0C-0.5,-0.75 0.5,-0.75 1,0C0.5,0.75 -0.5,0.75 -1,0ZM-0.75,0.85L0.75,-0.85M-0.3,0a0.3,0.3 0 1,0 0.6,0a0.3,0.3 0 1,0 -0.6,0","size":256,"filled":false,"stroke":"#131722","strokeWidth":1.2,"opacity":1}},
 {"data":{"values":[{"date":"2019-11-02","date2":"2019-12-05","low":53.35,"high":54.21}]},
  "mark":{"type":"rect","fill":"#ffffff","stroke":"#d1d4dc","strokeWidth":1,"cornerRadius":3},
  "encoding":{"x2":{"field":"date2"},"y":{"field":"low","type":"quantitative"},"y2":{"field":"high"}}},
 {"data":{"values":[{"date":"2019-11-19","price":53.8}]},
  "mark":{"type":"point","shape":"M-1,0.5L0,-0.5L1,0.5","size":81,"filled":false,"stroke":"#131722","strokeWidth":1.5,"opacity":1}},
 {"data":{"values":[{"date":"2019-12-22","price":25.91,"label":"TradingView"}]},
  "mark":{"type":"text","color":"#ffffff","stroke":"#ffffff","strokeWidth":4,"strokeOpacity":0.8,"fontSize":22,"fontWeight":"bold","align":"left","baseline":"middle"},
  "encoding":{"text":{"field":"label"}}},
 {"data":{"values":[{"date":"2019-11-23","price":25.91}]},
  "mark":{"type":"point","shape":"M-1,-0.5H-0.25V0.5H-0.6V-0.1H-1ZM-0.2,-0.3a0.17,0.17 0 1,0 0.34,0a0.17,0.17 0 1,0 -0.34,0ZM0.42,-0.5H1L0.55,0.5H-0.05Z","size":1024,"filled":true,"fill":"#131722","stroke":"#ffffff","strokeWidth":1,"opacity":1}},
 {"data":{"values":[{"date":"2019-12-22","price":25.91,"label":"TradingView"}]},
  "mark":{"type":"text","color":"#131722","fontSize":22,"fontWeight":"bold","align":"left","baseline":"middle"},
  "encoding":{"text":{"field":"label"}}},
 {"data":{"values":[{"date":"2024-11-08","date2":"2024-12-29","low":56.41,"high":57.47}]},
  "mark":{"type":"rect","fill":"#ffffff","stroke":"#e0e3eb","strokeWidth":1,"cornerRadius":4},
  "encoding":{"x2":{"field":"date2"},"y":{"field":"low","type":"quantitative"},"y2":{"field":"high"}}},
 {"data":{"values":[{"date":"2024-11-13","price":56.94,"label":"USD"}]},
  "mark":{"type":"text","color":"#131722","fontSize":13,"align":"left","baseline":"middle"},
  "encoding":{"text":{"field":"label"}}},
 {"data":{"values":[{"date":"2024-12-21","price":56.92}]},
  "mark":{"type":"point","shape":"M-1,-0.5L0,0.5L1,-0.5","size":36,"filled":false,"stroke":"#131722","strokeWidth":1.2,"opacity":1}},
 {"data":{"values":[{"date":"2024-11-09","date2":"2024-12-02","low":25.18,"high":26.12}]},
  "mark":{"type":"rect","fill":"#2962ff","cornerRadius":3},
  "encoding":{"x2":{"field":"date2"},"y":{"field":"low","type":"quantitative"},"y2":{"field":"high"}}},
 {"data":{"values":[{"date":"2024-12-08","date2":"2024-12-30","low":25.18,"high":26.12}]},
  "mark":{"type":"rect","fill":"#ffffff","stroke":"#e0e3eb","strokeWidth":1,"cornerRadius":3},
  "encoding":{"x2":{"field":"date2"},"y":{"field":"low","type":"quantitative"},"y2":{"field":"high"}}},
 {"data":{"values":[{"date":"2024-11-20","price":25.65,"label":"A"}]},
  "mark":{"type":"text","color":"#ffffff","fontSize":13,"align":"center","baseline":"middle"},
  "encoding":{"text":{"field":"label"}}},
 {"data":{"values":[{"date":"2024-12-19","price":25.65,"label":"L"}]},
  "mark":{"type":"text","color":"#131722","fontSize":13,"align":"center","baseline":"middle"},
  "encoding":{"text":{"field":"label"}}},
 {"data":{"values":[{"date":"2024-12-03","price":24.37}]},
  "mark":{"type":"point","shape":"M0,-1L0.87,-0.5V0.5L0,1L-0.87,0.5V-0.5ZM-0.3,0a0.3,0.3 0 1,0 0.6,0a0.3,0.3 0 1,0 -0.6,0","size":256,"filled":false,"stroke":"#131722","strokeWidth":1.2,"opacity":1}}
 ]}
],
"resolve":{"scale":{"y":"independent"}}
}
